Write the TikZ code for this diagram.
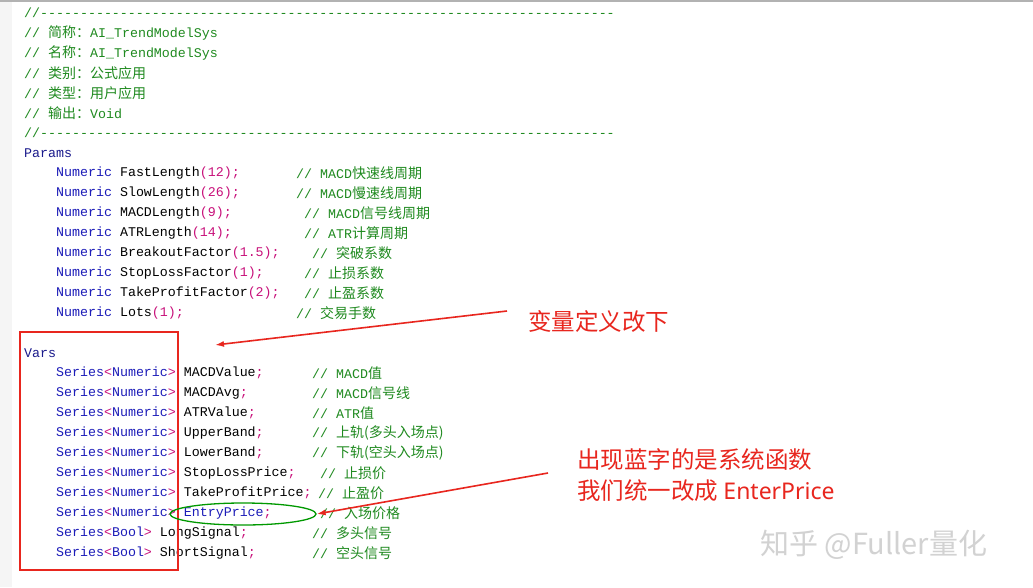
\documentclass[tikz,border=0pt]{standalone}
\usepackage{fontspec}
\setmonofont{Liberation Mono}
\newfontfamily\cjk{Noto Sans CJK SC}
\usetikzlibrary{arrows.meta,shapes.geometric}
\definecolor{kw}{HTML}{1C1CB8}
\definecolor{kwd}{HTML}{1A1A8C}
\definecolor{nm}{HTML}{C8107A}
\definecolor{cm}{HTML}{1F8A1F}
\definecolor{ann}{HTML}{E8261E}
\newcommand{\zh}[1]{{\cjk\fontsize{14}{14}\selectfont #1}}
\newcommand{\K}[1]{\textcolor{kw}{#1}}
\newcommand{\N}[1]{\textcolor{nm}{#1}}
\newcommand{\SN}{\K{Series}\N{<}\K{Numeric}\N{>}}
\newcommand{\SB}{\K{Series}\N{<}\K{Bool}\N{>}}
\newcommand{\dashrow}{//{-}{-}{-}{-}{-}{-}{-}{-}{-}{-}{-}{-}{-}{-}{-}{-}{-}{-}{-}{-}{-}{-}{-}{-}{-}{-}{-}{-}{-}{-}{-}{-}{-}{-}{-}{-}{-}{-}{-}{-}{-}{-}{-}{-}{-}{-}{-}{-}{-}{-}{-}{-}{-}{-}{-}{-}{-}{-}{-}{-}{-}{-}{-}{-}{-}{-}{-}{-}{-}{-}{-}{-}}
\tikzset{code/.style={anchor=west,inner sep=0pt,font=\ttfamily\fontsize{13.3}{14}\selectfont},
 cmt/.style={code,text=cm},
 anno/.style={anchor=west,inner sep=0pt,text=ann,font=\cjk\fontsize{23.5}{26}\selectfont},
 redarrow/.style={draw=ann,line width=1.6pt,-{Latex[length=9pt,width=6pt]}}}
\begin{document}
\begin{tikzpicture}[x=1pt,y=-1pt]
\useasboundingbox (0,0) rectangle (1033,587);
\fill[white] (0,0) rectangle (1033,587);
\fill[gray!8] (0,0) rectangle (12,587);
\draw[gray!60,line width=1.5pt] (0,1) -- (1033,1);
% header
\node[cmt] (h1) at (24,13) {\dashrow};
\node[cmt] (h2) at (24,33) {// \zh{简称：}AI\_TrendModelSys};
\node[cmt] (h3) at (24,53) {// \zh{名称：}AI\_TrendModelSys};
\node[cmt] (h4) at (24,73) {// \zh{类别：公式应用}};
\node[cmt] (h5) at (24,93) {// \zh{类型：用户应用}};
\node[cmt] (h6) at (24,113) {// \zh{输出：}Void};
\node[cmt] (h7) at (24,133) {\dashrow};
\node[code,text=kwd] (params) at (24,153) {Params};
\node[code] (p1) at (56,173) {\K{Numeric} FastLength\N{(12);}};
\node[cmt] at (296,173) {// MACD\zh{快速线周期}};
\node[code] (p2) at (56,193) {\K{Numeric} SlowLength\N{(26);}};
\node[cmt] at (296,193) {// MACD\zh{慢速线周期}};
\node[code] (p3) at (56,213) {\K{Numeric} MACDLength\N{(9);}};
\node[cmt] at (304,213) {// MACD\zh{信号线周期}};
\node[code] (p4) at (56,233) {\K{Numeric} ATRLength\N{(14);}};
\node[cmt] at (304,233) {// ATR\zh{计算周期}};
\node[code] (p5) at (56,253) {\K{Numeric} BreakoutFactor\N{(1.5);}};
\node[cmt] at (312,253) {// \zh{突破系数}};
\node[code] (p6) at (56,273) {\K{Numeric} StopLossFactor\N{(1);}};
\node[cmt] at (304,273) {// \zh{止损系数}};
\node[code] (p7) at (56,293) {\K{Numeric} TakeProfitFactor\N{(2);}};
\node[cmt] at (304,293) {// \zh{止盈系数}};
\node[code] (p8) at (56,313) {\K{Numeric} Lots\N{(1);}};
\node[cmt] at (296,313) {// \zh{交易手数}};
% vars
\node[code,text=kwd] (vars) at (24,353) {Vars};
\node[code] at (56,373) {\SN{} MACDValue\N{;}};
\node[cmt] at (312,373) {// MACD\zh{值}};
\node[code] at (56,393) {\SN{} MACDAvg\N{;}};
\node[cmt] at (312,393) {// MACD\zh{信号线}};
\node[code] at (56,413) {\SN{} ATRValue\N{;}};
\node[cmt] at (312,413) {// ATR\zh{值}};
\node[code] at (56,433) {\SN{} UpperBand\N{;}};
\node[cmt] at (312,433) {// \zh{上轨(多头入场点)}};
\node[code] at (56,453) {\SN{} LowerBand\N{;}};
\node[cmt] at (312,453) {// \zh{下轨(空头入场点)}};
\node[code] at (56,473) {\SN{} StopLossPrice\N{;}};
\node[cmt] at (320,473) {// \zh{止损价}};
\node[code] at (56,493) {\SN{} TakeProfitPrice\N{;}};
\node[cmt] at (318,493) {// \zh{止盈价}};
\node[code] at (56,513) {\SN{} \K{EntryPrice}\N{;}};
\node[cmt] at (320,513) {// \zh{入场价格}};
\node[code] at (56,533) {\SB{} LongSignal\N{;}};
\node[cmt] at (312,533) {// \zh{多头信号}};
\node[code] at (56,553) {\SB{} ShortSignal\N{;}};
\node[cmt] at (312,553) {// \zh{空头信号}};
% annotations
\node[draw=ann,line width=1.3pt,minimum width=158pt,minimum height=238pt,inner sep=0pt] (box) at (99,451) {};
\node[draw=green!60!black,line width=1.3pt,ellipse,minimum width=146pt,minimum height=22pt,inner sep=0pt] (ell) at (243,514) {};
\node[anno] (t1) at (528,322) {变量定义改下};
\node[anno] (t2) at (577,460) {出现蓝字的是系统函数};
\node[anno] (t3) at (577,491) {我们统一改成 \fontspec{Noto Sans}\fontsize{23}{26}\selectfont EnterPrice};
\coordinate (a1s) at (507,311);
\coordinate (a1e) at (215,345);
\coordinate (a2s) at (548,473);
\draw[redarrow] (a1s) -- (a1e);
\draw[redarrow] (a2s) -- (ell.east);
\node[anchor=west,inner sep=0pt,text=gray!35,font=\cjk\fontsize{29}{32}\selectfont] (wm) at (760,545) {知乎 @Fuller量化};
\end{tikzpicture}
\end{document}
